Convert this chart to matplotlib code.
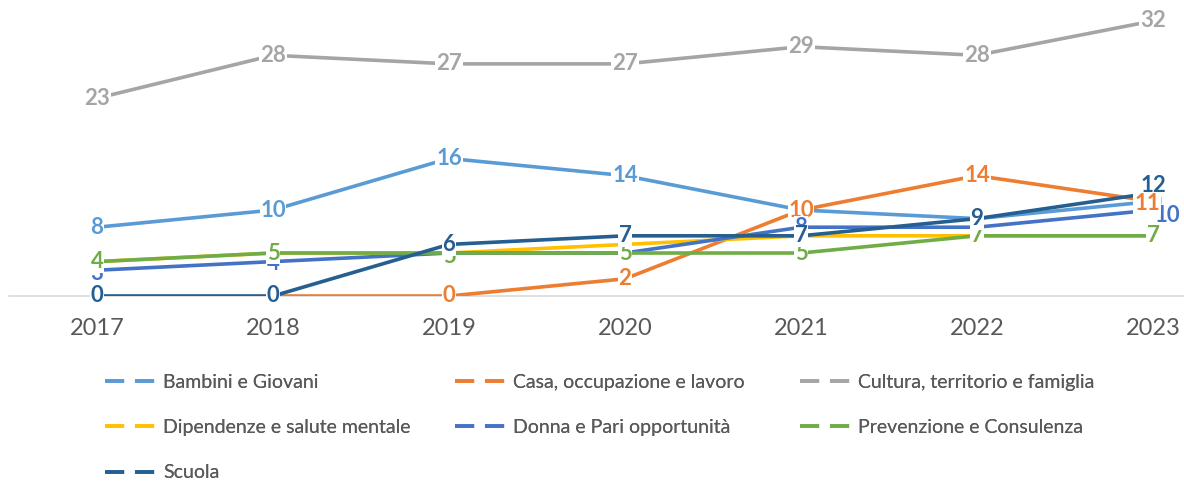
import numpy as np
import matplotlib.pyplot as plt
from matplotlib.lines import Line2D

plt.rcParams['font.family'] = ['Lato', 'DejaVu Sans']

years = [2017, 2018, 2019, 2020, 2021, 2022, 2023]
nan = np.nan
bambini = [8, 10, 16, 14, 10, 9, 11]
casa = [nan, 0, 0, 2, 10, 14, 11]
cultura = [23, 28, 27, 27, 29, 28, 32]
dipendenze = [4, 5, 5, 6, 7, 7, 7]
donna = [3, 4, 5, 5, 8, 8, 10]
prevenzione = [4, 5, 5, 5, 5, 7, 7]
scuola = [0, 0, 6, 7, 7, 9, 12]

series = [
    ('Bambini e Giovani', bambini, '#5B9BD5'),
    ('Casa, occupazione e lavoro', casa, '#ED7D31'),
    ('Cultura, territorio e famiglia', cultura, '#A5A5A5'),
    ('Dipendenze e salute mentale', dipendenze, '#FFC000'),
    ('Donna e Pari opportunità', donna, '#4472C4'),
    ('Prevenzione e Consulenza', prevenzione, '#70AD47'),
    ('Scuola', scuola, '#255E91'),
]

# labels nudged by hand in the original (series index, year) -> offset in pixels
nudge = {(1, 2023): (-6, -2), (4, 2023): (14, -5), (6, 2023): (0, 7),
         (4, 2017): (0, -3), (4, 2018): (0, -2), (5, 2019): (0, -3)}

fig = plt.figure(figsize=(11.84, 4.83), dpi=100)
ax = fig.add_axes([9 / 1184, 1 - 296 / 483, 1 - 9 / 1184, (296 - 8) / 483])

handles = []
for i, (name, vals, col) in enumerate(series):
    ax.plot(years, vals, color=col, lw=2.6, solid_capstyle='butt', zorder=2 + i * 0.1)
    for x, v in zip(years, vals):
        if np.isnan(v):
            continue
        dx, dy = nudge.get((i, x), (0, 0))
        z = 20 if (i, x) == (1, 2023) else 10 + i
        ax.annotate(str(int(v)), (x, v), xytext=(dx * 0.72, dy * 0.72),
                    textcoords='offset points', color=col, fontsize=16,
                    fontweight='bold', ha='center', va='center', zorder=z,
                    bbox=dict(facecolor='white', edgecolor='none', pad=0.4))
    handles.append(Line2D([], [], color=col, lw=2.6, linestyle=(0, (5.3, 3))))

ax.set_xlim(2016.5, 2023 + 31 / 176)
ax.set_ylim(0, 33.5)
ax.set_xticks(years)
ax.tick_params(axis='x', length=0, labelsize=17, labelcolor='#595959', pad=16)
ax.set_yticks([])
for s in ['top', 'right', 'left']:
    ax.spines[s].set_visible(False)
ax.spines['bottom'].set_color('#D9D9D9')
ax.spines['bottom'].set_linewidth(1.2)
ax.spines['bottom'].set_zorder(1)

# legend laid out row by row, one legend per column
columns = [(105, [0, 3, 6]), (455, [1, 4]), (800, [2, 5])]
for xpix, idx in columns:
    leg = fig.legend(handles=[handles[k] for k in idx], labels=[series[k][0] for k in idx],
                     loc='upper left', bbox_to_anchor=(xpix / 1184, 1 - 374 / 483),
                     borderaxespad=0, borderpad=0, frameon=False, fontsize=14,
                     labelcolor='#595959', handlelength=2.7, handletextpad=0.3,
                     labelspacing=1.45)
    fig.add_artist(leg)

fig.savefig('out.png', dpi=100)
